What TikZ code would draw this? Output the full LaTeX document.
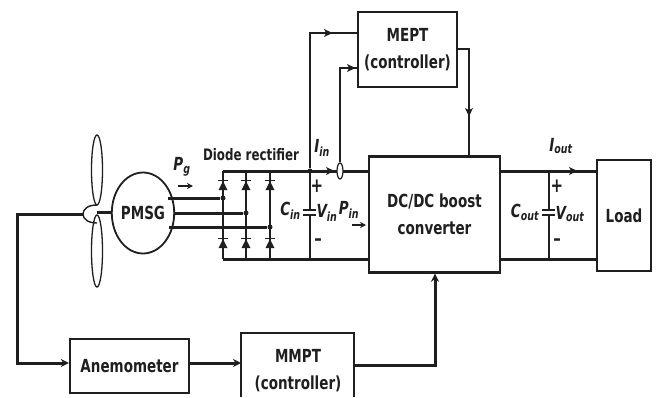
\documentclass[tikz,border=0pt]{standalone}
\usepackage{fontspec}
\setmainfont[FakeStretch=0.75]{DejaVu Sans}
\usetikzlibrary{arrows.meta,calc,shapes.geometric}
\definecolor{ink}{gray}{0.12}
\tikzset{
  thick line/.style={line width=3pt,draw=ink},
  thin line/.style={line width=1.5pt,draw=ink},
  blockbox/.style={line width=2.4pt,draw=ink,fill=white,align=center,inner sep=0pt,font=\bfseries\fontsize{18}{27}\selectfont,text=ink},
  lab/.style={inner sep=0pt,text=ink,font=\bfseries\itshape\fontsize{18}{20}\selectfont},
  plainlab/.style={inner sep=0pt,text=ink,font=\bfseries\fontsize{18}{27}\selectfont},
  signlab/.style={inner sep=0pt,text=ink,font=\bfseries\fontsize{20}{20}\selectfont},
  dotj/.style={circle,fill=ink,inner sep=0pt,minimum size=5pt},
  tip/.style={-{Stealth[length=8pt,width=8pt]}},
  smalltip/.style={-{Stealth[length=6pt,width=6pt]}}
}
\newcommand{\headat}[3]{\fill[ink,shift={(#1,#2)},rotate=#3] (4.5,0) -- (-4,-4) -- (-2,0) -- (-4,4) -- cycle;}
\newcommand{\diodeat}[2]{\fill[ink,shift={(#1,#2)}] (-4.5,5) -- (4.5,5) -- (0,-4) -- cycle; \draw[ink,line width=1.5pt,shift={(#1,#2)}] (-5,-4.5) -- (5,-4.5);}
\begin{document}
\begin{tikzpicture}[x=1pt,y=-1pt]
\useasboundingbox[fill=white] (0,0) rectangle (662,397);

% coordinates of the power circuit
\coordinate (rtl) at (223,171); \coordinate (rtm) at (246,171); \coordinate (rtr) at (270,171);
\coordinate (rbl) at (223,259); \coordinate (rbm) at (246,259); \coordinate (rbr) at (270,259);
\coordinate (capt) at (310,171); \coordinate (capb) at (310,259);
\coordinate (outt) at (549,171); \coordinate (outb) at (549,259);

% blocks
\node[blockbox,minimum width=99pt,minimum height=75pt] (mept) at (407.5,49.5) {MEPT\\(controller)};
\node[blockbox,minimum width=131pt,minimum height=116pt] (conv) at (434.5,214.5) {DC/DC boost\\converter};
\node[blockbox,minimum width=54pt,minimum height=111pt] (load) at (624,215.5) {Load};
\node[blockbox,minimum width=119pt,minimum height=54pt] (anem) at (129.5,366) {Anemometer};
\node[minimum width=113pt,minimum height=64pt,inner sep=0pt,outer sep=0pt] (mmpt) at (297.5,365) {};
\node[plainlab] (mmptt) at (298,356) {MMPT};
\node[plainlab] (mmptu) at (298,384) {(controller)};
\draw[line width=2.4pt,draw=ink] (mmpt.south west) -- (mmpt.north west) -- (mmpt.north east) -- (mmpt.south east);

% turbine
\node[draw=ink,line width=1.8pt,fill=white,ellipse,minimum width=59pt,minimum height=81pt,inner sep=0pt,font=\bfseries\fontsize{18}{20}\selectfont,text=ink] (pmsg) at (143,213) {PMSG};
\node[draw=ink,line width=1.3pt,ellipse,minimum width=11pt,minimum height=70pt,inner sep=0pt] (bladeu) at (97,170) {};
\node[draw=ink,line width=1.3pt,ellipse,minimum width=11pt,minimum height=72pt,inner sep=0pt] (bladed) at (97,251) {};
\coordinate (hubl) at (83,214);
\coordinate (hubt) at (97,205);
\coordinate (hubb) at (97,223);
\draw[line width=1.4pt,draw=ink] (hubb) .. controls (88,223) and (83,219) .. (hubl) .. controls (83,209) and (88,205) .. (hubt);
\draw[thick line] (hubt |- pmsg.west) ++(0,-1) -- ($(pmsg.west)+(0,-1)$);
\draw[thick line] (hubl) -| (17,300) coordinate (fbk);

% three phase lines
\foreach \n/\y/\c in {a/198/rtl,b/213/rtm,c/227/rtr}{
  \coordinate (ph\n) at (\c |- 0,\y);
  \node[dotj] (dot\n) at (ph\n) {};
}
\draw[thick line] (pmsg.center |- 0,198) ++(25,0) -- (dota);
\draw[thick line] (pmsg.east |- 0,213) -- (dotb);
\draw[thick line] (pmsg.center |- 0,227) ++(26,0) -- (dotc);

% rectifier legs
\draw[thin line,line width=1.8pt] (rtl) -- (rbl);
\draw[thin line,line width=1.8pt] (rtm) -- (rbm);
\draw[thin line,line width=1.8pt] (rtr) -- (rbr);
\foreach \x in {223,246,270}{\diodeat{\x}{185}\diodeat{\x}{243}}

% buses
\draw[thick line] (rtl) -- (conv.west |- rtl);
\draw[thick line] (rbl) -- (conv.west |- rbl);
\draw[thick line] (conv.east |- outt) -- (load.west |- outt);
\draw[thick line] (conv.east |- outb) -- (load.west |- outb);
\node[dotj] (jin) at (capt) {};
\headat{330}{171}{0}
\headat{573}{171}{0}
\node[draw=ink,line width=1.2pt,fill=white,ellipse,minimum width=6pt,minimum height=16pt,inner sep=0pt] (sens) at (340,171) {};

% capacitors
\draw[thin line] (capt) -- (310,210) coordinate (cinu);
\draw[thin line] (capb) -- (310,215) coordinate (cind);
\draw[thin line] (303,210) -- (316,210);
\draw[thin line] (303,215) -- (316,215);
\draw[thin line] (outt) -- (549,210) coordinate (coutu);
\draw[thin line] (outb) -- (549,215) coordinate (coutd);
\draw[thin line] (542,210) -- (555,210);
\draw[thin line] (542,215) -- (555,215);

% control wires
\draw[thin line] (jin) |- (mept.west |- 0,33);
\headat{328}{33}{0}
\draw[thin line] (sens.north) |- (mept.west |- 0,68);
\headat{351}{68}{0}
\draw[thin line] (mept.east |- 0,49) -| (469,112) coordinate (mdn) -- (conv.north -| 469,0);
\headat{469}{112}{-90}

% lower loop
\draw[thick line,tip] (fbk) |- (anem.west |- 0,363);
\draw[thick line,tip] (anem.east |- 0,363) -- (mmpt.west |- 0,363);
\draw[thick line,tip] (mmpt.east |- 0,365) -| (conv.south -| 435,0);

% labels
\node[plainlab,font=\bfseries\fontsize{15.8}{18}\selectfont] (rect) at (251,155) {Diode rectifier};
\node[lab] (pg) at (182,167) {P\textsubscript{g}};
\draw[thin line,smalltip] (178,186) -- (193,186);
\node[lab] (iin) at (322,148) {I\textsubscript{in}};
\node[lab] (iout) at (561,146) {I\textsubscript{out}};
\node[signlab] (pl1) at (317,186) {+};
\node[signlab] (mi1) at (318,242) {–};
\node[signlab] (pl2) at (557,186) {+};
\node[signlab] (mi2) at (557,242) {–};
\node[lab] (cin) at (290.5,211) {C\textsubscript{in}};
\node[lab] (vin) at (327,213) {V\textsubscript{in}};
\node[lab] (pin) at (349,210) {P\textsubscript{in}};
\draw[thin line,smalltip] (352,225) -- (366,225);
\node[lab] (cout) at (525,212) {C\textsubscript{out}};
\node[lab] (vout) at (570,214) {V\textsubscript{out}};
\end{tikzpicture}
\end{document}
